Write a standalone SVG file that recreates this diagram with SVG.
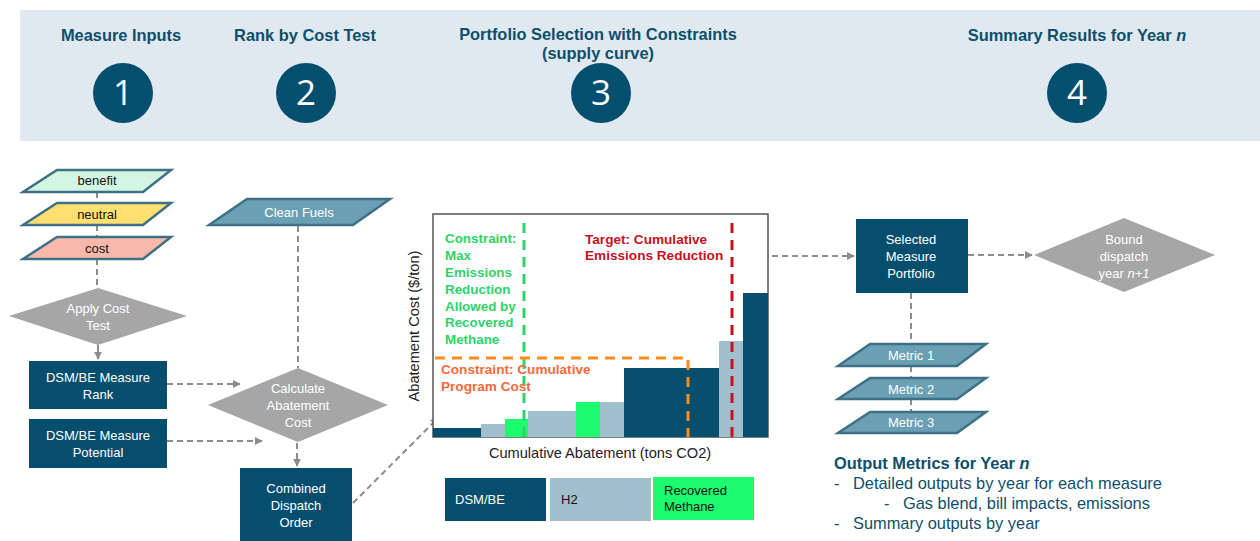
<svg xmlns="http://www.w3.org/2000/svg" width="1260" height="541" viewBox="0 0 1260 541">
<defs>
<style>
text{font-family:"Liberation Sans",Arial,sans-serif}
.hd{font-size:16.4px;font-weight:bold;fill:#0e4f6c;text-anchor:middle}
.num{font-family:"Open Sans","Liberation Sans",sans-serif;font-size:35px;fill:#fff;text-anchor:middle}
.circ{fill:#044e6e}
.box{fill:#054e6e}
.dia{fill:#a6a6a6}
.wt{font-size:13px;fill:#fff;text-anchor:middle}
.dk{font-size:13px;fill:#111;text-anchor:middle}
.par{stroke:#3e7186;stroke-width:2.5}
.pb{fill:#6b9fb4}
.dash{fill:none;stroke:#8c8c8c;stroke-width:2;stroke-dasharray:6 4}
.solid{fill:none;stroke:#8c8c8c;stroke-width:2}
.dsm{fill:#054e6e}
.h2{fill:#a2bfcd}
.rm{fill:#1dfb6e}
.cg{font-size:13.4px;font-weight:bold;fill:#2fd36a}
.cr{font-size:13.6px;font-weight:bold;fill:#c8101e}
.co{font-size:13.6px;font-weight:bold;fill:#f5693c}
.ax{font-size:14.6px;fill:#222}
.out{font-size:16.4px;fill:#0e4f6c}
</style>
<marker id="ah" viewBox="0 0 10 10" refX="9" refY="5" markerWidth="4" markerHeight="4" orient="auto">
<path d="M0,0 L10,5 L0,10 z" fill="#8c8c8c"/>
</marker>
</defs>
<rect width="1260" height="541" fill="#fff"/>
<g id="header">
<rect x="20" y="10" width="1240" height="131" fill="#e0e9ef"/>
<text class="hd" x="121" y="41">Measure Inputs</text>
<text class="hd" x="305" y="41">Rank by Cost Test</text>
<text class="hd" x="598" y="40">Portfolio Selection with Constraints</text>
<text class="hd" x="598" y="59">(supply curve)</text>
<text class="hd" x="1077" y="41">Summary Results for Year <tspan font-style="italic">n</tspan></text>
<circle class="circ" cx="123" cy="93" r="30"/>
<text class="num" x="123" y="105">1</text>
<circle class="circ" cx="306" cy="93" r="30"/>
<text class="num" x="306" y="105">2</text>
<circle class="circ" cx="601" cy="93" r="30"/>
<text class="num" x="601" y="105">3</text>
<circle class="circ" cx="1077" cy="93" r="30"/>
<text class="num" x="1077" y="105">4</text>
</g>
<g id="connectors">
<line class="dash" x1="97" y1="192" x2="97" y2="203"/>
<line class="dash" x1="97" y1="225" x2="97" y2="237"/>
<line class="dash" x1="97" y1="259" x2="97" y2="288"/>
<line class="solid" x1="98" y1="345" x2="98" y2="359" marker-end="url(#ah)"/>
<line class="dash" x1="167" y1="384" x2="240" y2="384" marker-end="url(#ah)"/>
<line class="dash" x1="167" y1="441" x2="262" y2="441" marker-end="url(#ah)"/>
<line class="dash" x1="298" y1="226" x2="298" y2="368"/>
<line class="dash" x1="297" y1="443" x2="297" y2="466" marker-end="url(#ah)"/>
<line class="dash" x1="353" y1="503" x2="438" y2="418" marker-end="url(#ah)"/>
<line class="dash" x1="772" y1="256" x2="854" y2="256" marker-end="url(#ah)"/>
<line class="dash" x1="968" y1="255" x2="1032" y2="255" marker-end="url(#ah)"/>
<line class="dash" x1="911" y1="293" x2="911" y2="344"/>
<line class="dash" x1="911" y1="366" x2="911" y2="378"/>
<line class="dash" x1="911" y1="399" x2="911" y2="412"/>
</g>
<g id="benefit">
<polygon class="par" points="57,170 171,170 143,192 23,192" fill="#d5f5e3"/>
<text class="dk" x="97" y="185">benefit</text>
</g>
<g id="neutral">
<polygon class="par" points="57,203 171,203 143,225 23,225" fill="#fde06f"/>
<text class="dk" x="97" y="219">neutral</text>
</g>
<g id="cost">
<polygon class="par" points="57,237 171,237 143,259 23,259" fill="#f8b9aa"/>
<text class="dk" x="97" y="253">cost</text>
</g>
<g id="apply-cost-test">
<polygon class="dia" points="98,288 187,316 98,345 9,316"/>
<text class="wt" x="98" y="313">Apply Cost</text>
<text class="wt" x="98" y="330">Test</text>
</g>
<g id="dsm-rank">
<rect class="box" x="29" y="361" width="138" height="48"/>
<text class="wt" x="98" y="382">DSM/BE Measure</text>
<text class="wt" x="98" y="399">Rank</text>
</g>
<g id="dsm-potential">
<rect class="box" x="29" y="419" width="138" height="49"/>
<text class="wt" x="98" y="440">DSM/BE Measure</text>
<text class="wt" x="98" y="457">Potential</text>
</g>
<g id="clean-fuels">
<polygon class="par pb" points="247,199 390,199 353,225 209,225"/>
<text class="wt" x="299" y="217">Clean Fuels</text>
</g>
<g id="calc-abatement">
<polygon class="dia" points="298,368 388,405 298,442 208,405"/>
<text class="wt" x="298" y="393">Calculate</text>
<text class="wt" x="298" y="410">Abatement</text>
<text class="wt" x="298" y="427">Cost</text>
</g>
<g id="combined-dispatch">
<rect class="box" x="240" y="468" width="112" height="80"/>
<text class="wt" x="296" y="493">Combined</text>
<text class="wt" x="296" y="510">Dispatch</text>
<text class="wt" x="296" y="527">Order</text>
</g>
<g id="supply-curve">
<rect x="433" y="214" width="335" height="223" fill="#fff" stroke="#555" stroke-width="1.5"/>
<rect class="dsm" x="433" y="428" width="48" height="9"/>
<rect class="h2" x="481" y="424" width="24" height="13"/>
<rect class="rm" x="505" y="419" width="23" height="18"/>
<rect class="h2" x="528" y="411" width="48" height="26"/>
<rect class="rm" x="576" y="402" width="24" height="35"/>
<rect class="h2" x="600" y="402" width="24" height="35"/>
<rect class="dsm" x="624" y="368" width="95" height="69"/>
<rect class="h2" x="719" y="341" width="24" height="96"/>
<rect class="dsm" x="743" y="293" width="25" height="144"/>
<line x1="524" y1="223" x2="524" y2="437" stroke="#2fd36a" stroke-width="3" stroke-dasharray="10 7"/>
<polyline points="435,358 688,358 688,437" fill="none" stroke="#ff8c1a" stroke-width="3" stroke-dasharray="10 7"/>
<line x1="732" y1="223" x2="732" y2="437" stroke="#c8101e" stroke-width="3" stroke-dasharray="10 7"/>
<text class="cg" x="445" y="243">Constraint:</text>
<text class="cg" x="445" y="260">Max</text>
<text class="cg" x="445" y="277">Emissions</text>
<text class="cg" x="445" y="294">Reduction</text>
<text class="cg" x="445" y="311">Allowed by</text>
<text class="cg" x="445" y="327">Recovered</text>
<text class="cg" x="445" y="344">Methane</text>
<text class="cr" x="585" y="244">Target: Cumulative</text>
<text class="cr" x="585" y="260">Emissions Reduction</text>
<text class="co" x="441" y="374">Constraint: Cumulative</text>
<text class="co" x="441" y="391">Program Cost</text>
<text class="ax" transform="translate(419,326) rotate(-90)" text-anchor="middle">Abatement Cost ($/ton)</text>
<text class="ax" x="600" y="458" text-anchor="middle">Cumulative Abatement (tons CO2)</text>
</g>
<g id="legend">
<rect class="dsm" x="445" y="478" width="101" height="43"/>
<text x="455" y="504" font-size="13" fill="#fff">DSM/BE</text>
<rect class="h2" x="550" y="478" width="101" height="43"/>
<text x="561" y="504" font-size="13" fill="#111">H2</text>
<rect class="rm" x="653" y="477" width="101" height="43"/>
<text x="664" y="495" font-size="13" fill="#111">Recovered</text>
<text x="664" y="511" font-size="13" fill="#111">Methane</text>
</g>
<g id="selected-portfolio">
<rect class="box" x="856" y="219" width="112" height="74"/>
<text class="wt" x="911" y="244">Selected</text>
<text class="wt" x="911" y="261">Measure</text>
<text class="wt" x="911" y="278">Portfolio</text>
</g>
<g id="bound-dispatch">
<polygon class="dia" points="1124,218 1215,255 1124,292 1034,255"/>
<text class="wt" x="1124" y="244">Bound</text>
<text class="wt" x="1124" y="261">dispatch</text>
<text class="wt" x="1124" y="278">year <tspan font-style="italic">n+1</tspan></text>
</g>
<g id="metric-1">
<polygon class="par pb" points="870,344 986,344 957,366 838,366"/>
<text class="wt" x="911" y="360">Metric 1</text>
</g>
<g id="metric-2">
<polygon class="par pb" points="870,378 986,378 957,399 838,399"/>
<text class="wt" x="911" y="394">Metric 2</text>
</g>
<g id="metric-3">
<polygon class="par pb" points="870,412 986,412 957,433 838,433"/>
<text class="wt" x="911" y="427">Metric 3</text>
</g>
<g id="output-metrics">
<text class="out" x="834" y="469" font-size="16.8px" font-weight="bold">Output Metrics for Year <tspan font-style="italic">n</tspan></text>
<text class="out" x="834" y="489">-</text>
<text class="out" x="853" y="489">Detailed outputs by year for each measure</text>
<text class="out" x="884" y="509">-</text>
<text class="out" x="903" y="509">Gas blend, bill impacts, emissions</text>
<text class="out" x="834" y="529">-</text>
<text class="out" x="853" y="529">Summary outputs by year</text>
</g>
</svg>
